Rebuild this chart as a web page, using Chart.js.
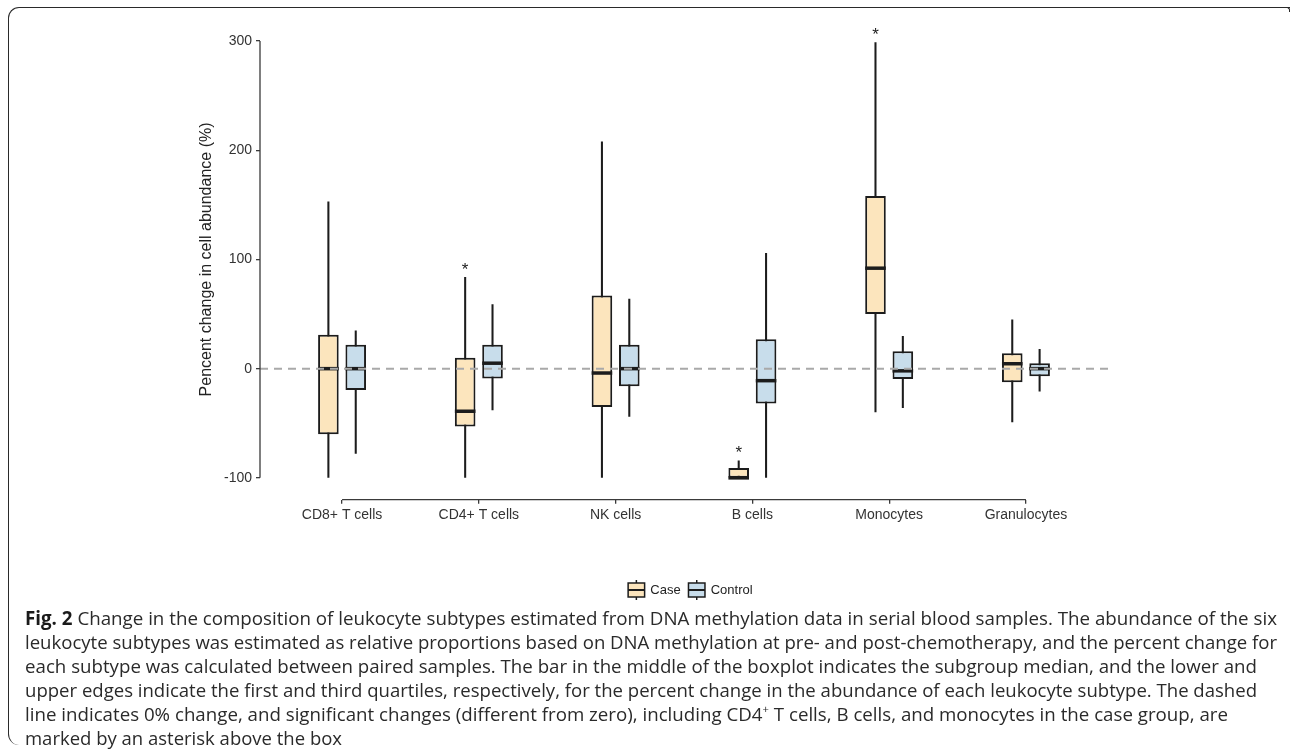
<!DOCTYPE html>
<html><head><meta charset="utf-8">
<script src="https://cdn.jsdelivr.net/npm/chart.js@4.4.1/dist/chart.umd.min.js"></script>
<style>
html,body{margin:0;padding:0;background:#fff;width:1290px;height:749px;overflow:hidden;}
#wrap{position:relative;width:1290px;height:749px;}
#c{position:absolute;left:0;top:0;}
#frame{position:absolute;left:8px;top:7px;width:1290px;height:738px;border-left:1.6px solid #2a2a2a;border-top:1.6px solid #2a2a2a;border-radius:11px 0 0 11px;box-sizing:border-box;}
#hook{position:absolute;left:1286px;top:7px;width:3px;height:4px;border-right:1.6px solid #2a2a2a;border-top:1.6px solid #2a2a2a;border-radius:0 3px 0 0;}
#caption{position:absolute;left:25px;top:0;font-family:"Open Sans";color:#2a2a2a;}
.ln{position:absolute;left:0;white-space:nowrap;transform-origin:0 50%;}
.ln b{font-weight:700;color:#1a1a1a;}
sup{font-size:0.6em;line-height:0;vertical-align:0.7em;}
</style></head><body>
<div id="wrap"><canvas id="c" width="1290" height="749"></canvas><div id="frame"></div><div id="hook"></div><div id="caption"></div></div>
<script>
// ---- data ----
const categories = ['CD8+ T cells', 'CD4+ T cells', 'NK cells', 'B cells', 'Monocytes', 'Granulocytes'];
const groupLabels = ['Case', 'Control'];
const yTicks = [-100, 0, 100, 200, 300];

const caseLow    = [-100, -100, -100, -100, -40, -49];
const caseQ1     = [-60, -53, -35, -100, 50, -12.5];
const caseMedian = [0, -39, -4, -100, 92, 4.5];
const caseQ3     = [31, 10, 67, -91, 158, 14];
const caseHigh   = [153, 84, 208, -84, 299, 45];

const controlLow    = [-78, -38, -44, -100, -36, -21];
const controlQ1     = [-19.5, -9, -16, -32, -9.5, -7];
const controlMedian = [0, 5, 0, -11, -2, 0];
const controlQ3     = [22, 22, 22, 27, 16, 5];
const controlHigh   = [35, 59, 64, 106, 30, 18];

const caseSignificant = [false, true, false, true, true, false];

const captionLines = [
  '<b>Fig. 2</b> Change in the composition of leukocyte subtypes estimated from DNA methylation data in serial blood samples. The abundance of the six',
  'leukocyte subtypes was estimated as relative proportions based on DNA methylation at pre- and post-chemotherapy, and the percent change for',
  'each subtype was calculated between paired samples. The bar in the middle of the boxplot indicates the subgroup median, and the lower and',
  'upper edges indicate the first and third quartiles, respectively, for the percent change in the abundance of each leukocyte subtype. The dashed',
  'line indicates 0% change, and significant changes (different from zero), including CD4<sup>+</sup> T cells, B cells, and monocytes in the case group, are',
  'marked by an asterisk above the box'
];

// ---- styling ----
const caseFill = '#fce5bd';
const controlFill = '#c8ddeb';
const ink = '#1c1c1c';
const axisInk = '#3a3a3a';
const FONT = 'Liberation Sans, Arial, sans-serif';

const boxStyle = {borderColor: ink, borderWidth: 2, borderSkipped: false, categoryPercentage: 0.4, barPercentage: 0.753};
const whiskerStyle = {backgroundColor: ink, borderWidth: 0, categoryPercentage: 0.4, barPercentage: 0.075};

function boxData(q1, q3) { return categories.map((c, i) => ({x: i, y: [q1[i], q3[i]]})); }

const medians = [caseMedian, controlMedian];
const fills = [caseFill, controlFill];

const boxPlugin = {
  id: 'boxExtras',
  afterDatasetsDraw(chart) {
    const ctx = chart.ctx;
    const y = chart.scales.y;
    const area = chart.chartArea;
    // medians
    ctx.save();
    ctx.strokeStyle = ink;
    ctx.lineWidth = 3.5;
    for (let d = 0; d < 2; d++) {
      const meta = chart.getDatasetMeta(d);
      meta.data.forEach((bar, i) => {
        const py = y.getPixelForValue(medians[d][i]);
        ctx.beginPath();
        ctx.moveTo(bar.x - bar.width / 2, py);
        ctx.lineTo(bar.x + bar.width / 2, py);
        ctx.stroke();
      });
    }
    ctx.restore();
    // zero dashed line
    ctx.save();
    ctx.strokeStyle = '#a9a9a9';
    ctx.lineWidth = 2;
    ctx.setLineDash([8, 6]);
    const y0 = y.getPixelForValue(0);
    ctx.beginPath();
    ctx.moveTo(area.left, y0);
    ctx.lineTo(area.right, y0);
    ctx.stroke();
    ctx.restore();
    // asterisks
    ctx.save();
    ctx.fillStyle = '#222';
    ctx.font = '17px ' + FONT;
    ctx.textAlign = 'center';
    ctx.textBaseline = 'alphabetic';
    const meta0 = chart.getDatasetMeta(0);
    meta0.data.forEach((bar, i) => {
      if (!caseSignificant[i]) return;
      const top = y.getPixelForValue(caseHigh[i]);
      ctx.fillText('*', bar.x, top - 12 + 0.57 * 17);
    });
    ctx.restore();
  },
  afterDraw(chart) {
    const ctx = chart.ctx;
    const x = chart.scales.x, y = chart.scales.y;
    const area = chart.chartArea;
    ctx.save();
    ctx.strokeStyle = axisInk;
    ctx.lineWidth = 1.3;
    // capped axis lines
    ctx.beginPath();
    ctx.moveTo(area.left, y.getPixelForValue(yTicks[yTicks.length - 1]));
    ctx.lineTo(area.left, y.getPixelForValue(yTicks[0]));
    ctx.stroke();
    ctx.beginPath();
    ctx.moveTo(x.getPixelForValue(0), area.bottom);
    ctx.lineTo(x.getPixelForValue(categories.length - 1), area.bottom);
    ctx.stroke();
    ctx.restore();
    // legend
    ctx.save();
    ctx.font = '13px ' + FONT;
    const legY = 590;
    const iconW = 18, gap = 5, itemGap = 7;
    const widths = groupLabels.map(t => ctx.measureText(t).width);
    let total = 0;
    widths.forEach((w, i) => { total += iconW + gap + w + (i < widths.length - 1 ? itemGap : 0); });
    let cx = (area.left + area.right) / 2 + 6 - total / 2;
    groupLabels.forEach((t, i) => {
      ctx.strokeStyle = ink;
      ctx.lineWidth = 1.5;
      ctx.beginPath();
      ctx.moveTo(cx + iconW / 2, legY - 10);
      ctx.lineTo(cx + iconW / 2, legY + 10);
      ctx.stroke();
      ctx.fillStyle = fills[i];
      ctx.fillRect(cx + 0.75, legY - 7, iconW - 1.5, 14);
      ctx.strokeRect(cx + 0.75, legY - 7, iconW - 1.5, 14);
      ctx.lineWidth = 2;
      ctx.beginPath();
      ctx.moveTo(cx + 0.75, legY);
      ctx.lineTo(cx + iconW - 0.75, legY);
      ctx.stroke();
      ctx.fillStyle = '#222';
      ctx.textBaseline = 'middle';
      ctx.textAlign = 'left';
      ctx.fillText(t, cx + iconW + gap, legY);
      cx += iconW + gap + widths[i] + itemGap;
    });
    ctx.restore();
  }
};

const chart = new Chart(document.getElementById('c'), {
  type: 'bar',
  data: {
    datasets: [
      Object.assign({label: groupLabels[0], stack: 'Case', data: boxData(caseQ1, caseQ3), backgroundColor: caseFill}, boxStyle),
      Object.assign({label: groupLabels[1], stack: 'Control', data: boxData(controlQ1, controlQ3), backgroundColor: controlFill}, boxStyle),
      Object.assign({label: groupLabels[0] + ' whisker', stack: 'Case', data: boxData(caseLow, caseHigh)}, whiskerStyle),
      Object.assign({label: groupLabels[1] + ' whisker', stack: 'Control', data: boxData(controlLow, controlHigh)}, whiskerStyle)
    ]
  },
  options: {
    responsive: false,
    animation: false,
    events: [],
    layout: {padding: {left: 190, top: 19.2, right: 182, bottom: 219.3}},
    plugins: {legend: {display: false}, tooltip: {enabled: false}},
    scales: {
      x: {
        type: 'linear', min: -0.6, max: 5.6, offset: false,
        afterBuildTicks: s => { s.ticks = categories.map((c, i) => ({value: i})); },
        afterFit: s => { s.height = 30; },
        ticks: {autoSkip: false, maxRotation: 0, padding: 3, color: '#333', font: {family: FONT, size: 14},
          callback: v => categories[v]},
        grid: {display: true, drawOnChartArea: false, drawTicks: true, tickLength: 4, color: axisInk, lineWidth: 1.3, offset: false},
        border: {display: false}
      },
      y: {
        type: 'linear', min: -120, max: 320, stacked: false,
        afterBuildTicks: s => { s.ticks = yTicks.map(v => ({value: v})); },
        afterFit: s => { s.width = 70; },
        ticks: {padding: 4, color: '#333', font: {family: FONT, size: 14}},
        grid: {display: true, drawOnChartArea: false, drawTicks: true, tickLength: 4, color: axisInk, lineWidth: 1.3},
        border: {display: false},
        title: {display: true, text: 'Pencent change in cell abundance (%)', color: '#222', font: {family: FONT, size: 16}, padding: {top: 7, bottom: 0}}
      }
    }
  },
  plugins: [boxPlugin]
});

// caption
(function () {
  const cap = document.getElementById('caption');
  const targets = [1252, 1252, 1232, 1232, 1203, 317];
  const firstTop = 618, step = 24;
  let size = 17;
  const probe = document.createElement('div');
  probe.className = 'ln';
  probe.style.fontSize = size + 'px';
  probe.innerHTML = captionLines[0];
  cap.appendChild(probe);
  size = size * targets[0] / probe.getBoundingClientRect().width;
  cap.removeChild(probe);
  captionLines.forEach((html, i) => {
    const d = document.createElement('div');
    d.className = 'ln';
    d.style.fontSize = size.toFixed(2) + 'px';
    d.style.lineHeight = '24px';
    d.innerHTML = html;
    cap.appendChild(d);
    const w = d.getBoundingClientRect().width;
    d.style.top = (firstTop + step * i - 12) + 'px';
    d.style.transform = 'scaleX(' + (targets[i] / w).toFixed(4) + ')';
  });
})();
</script>
</body></html>
